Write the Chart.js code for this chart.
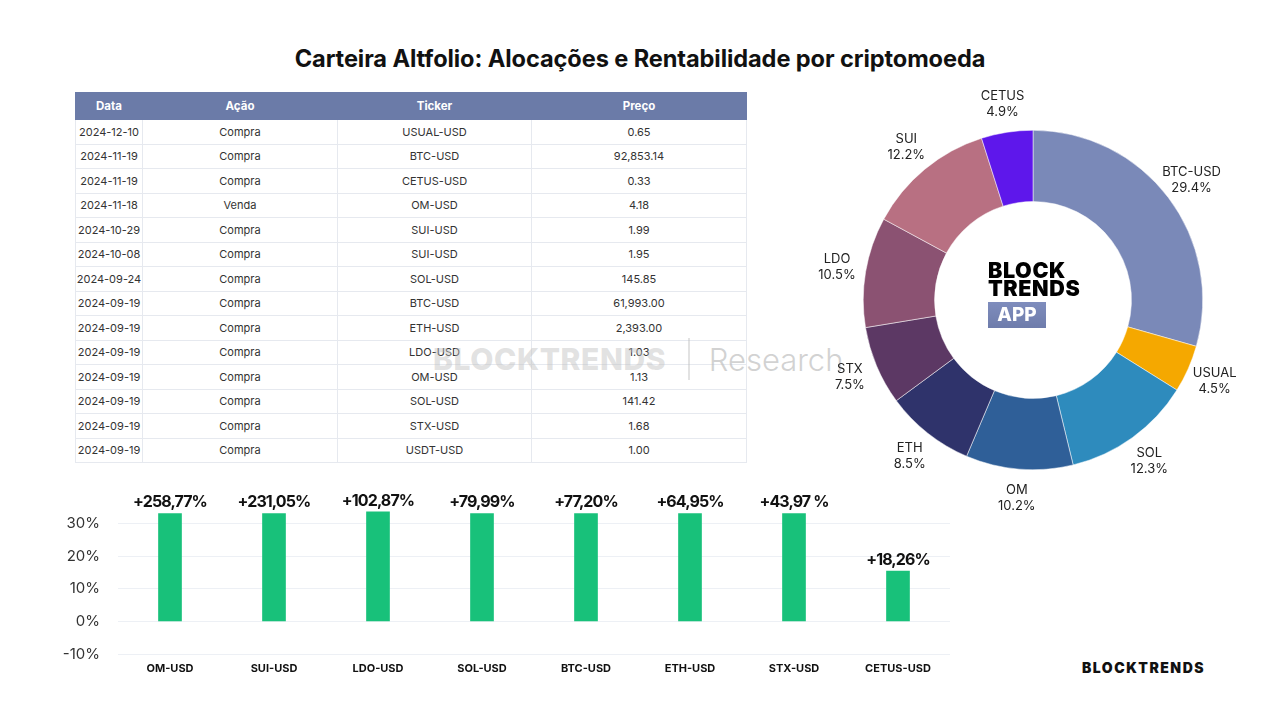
<!DOCTYPE html>
<html>
<head>
<meta charset="utf-8">
<script src="https://cdn.jsdelivr.net/npm/chart.js@4.4.1/dist/chart.umd.min.js"></script>
<style>
  html, body { margin: 0; padding: 0; background: #fff; }
  body { width: 1280px; height: 720px; position: relative; overflow: hidden; font-family: Inter, "Noto Sans", sans-serif; }
  #title { position: absolute; left: 0; top: 44px; width: 1280px; text-align: center; font-size: 23.6px; font-weight: 700; color: #111; letter-spacing: -0.1px; }
  #trades { position: absolute; left: 75px; top: 92px; width: 671px; border-collapse: collapse; table-layout: fixed; font-size: 11px; color: #333; }
  #trades th { background: #6b7ba8; color: #fff; font-weight: 700; font-size: 11.5px; height: 26px; padding: 0; border: 1px solid #6b7ba8; border-left-color: #fff; }
  #trades th:first-child { border-left-color: #6b7ba8; }
  #trades td { height: 23.5px; padding: 0; text-align: center; border: 1px solid #e6e9ef; }
  #watermark { position: absolute; left: 433px; top: 336px; height: 46px; display: flex; align-items: center; pointer-events: none; color: rgba(190,190,190,0.45); }
  #watermark .b { font-size: 30px; font-weight: 800; letter-spacing: 0.6px; font-family: Inter, sans-serif; }
  #watermark .sep { width: 1.5px; height: 42px; background: rgba(190,190,190,0.45); margin: 0 19px 0 22px; }
  #watermark .r { font-size: 31px; font-weight: 300; color: rgba(190,190,190,0.7); }
  #donutWrap { position: absolute; left: 813px; top: 80px; width: 440px; height: 440px; }
  #barWrap { position: absolute; left: 60px; top: 480px; width: 890px; height: 204px; }
  #logo { position: absolute; left: 988px; top: 262px; line-height: 17.5px; font-size: 21.5px; font-weight: 900; color: #000; letter-spacing: 0.6px; }
  #logo .app { display: inline-block; margin-top: 5px; width: 58px; height: 26px; line-height: 26px; text-align: center; background: linear-gradient(#7f8dbd, #6e7cab); color: #fff; font-size: 19px; font-weight: 800; letter-spacing: 0; }
  #brand { position: absolute; left: 1082px; top: 659px; font-size: 14px; font-weight: 900; color: #111; letter-spacing: 1.5px; }
</style>
</head>
<body>
<div id="title">Carteira Altfolio: Alocações e Rentabilidade por criptomoeda</div>

<table id="trades">
  <colgroup><col style="width:67px"><col style="width:195px"><col style="width:194px"><col style="width:215px"></colgroup>
  <thead><tr><th>Data</th><th>Ação</th><th>Ticker</th><th>Preço</th></tr></thead>
  <tbody id="tradeRows"></tbody>
</table>

<div id="watermark"><span class="b">BLOCKTRENDS</span><span class="sep"></span><span class="r">Research</span></div>

<div id="donutWrap"><canvas id="allocChart"></canvas></div>
<div id="logo">BLOCK<br>TRENDS<br><span class="app">APP</span></div>

<div id="barWrap"><canvas id="returnChart"></canvas></div>
<div id="brand">BLOCKTRENDS</div>

<script>
// table
const tradeDates = ["2024-12-10", "2024-11-19", "2024-11-19", "2024-11-18", "2024-10-29", "2024-10-08", "2024-09-24",
  "2024-09-19", "2024-09-19", "2024-09-19", "2024-09-19", "2024-09-19", "2024-09-19", "2024-09-19"];
const tradeActions = ["Compra", "Compra", "Compra", "Venda", "Compra", "Compra", "Compra",
  "Compra", "Compra", "Compra", "Compra", "Compra", "Compra", "Compra"];
const tradeTickers = ["USUAL-USD", "BTC-USD", "CETUS-USD", "OM-USD", "SUI-USD", "SUI-USD", "SOL-USD",
  "BTC-USD", "ETH-USD", "LDO-USD", "OM-USD", "SOL-USD", "STX-USD", "USDT-USD"];
const tradePrices = ["0.65", "92,853.14", "0.33", "4.18", "1.99", "1.95", "145.85",
  "61,993.00", "2,393.00", "1.03", "1.13", "141.42", "1.68", "1.00"];

// doughnut
const allocLabels = ["BTC-USD", "USUAL", "SOL", "OM", "ETH", "STX", "LDO", "SUI", "CETUS"];
const allocValues = [29.4, 4.5, 12.3, 10.2, 8.5, 7.5, 10.5, 12.2, 4.9];
const allocColors = ["#7a89b8", "#f5a800", "#2e8bbd", "#2f5f98", "#2f336b", "#5c3864", "#8b5272", "#b87082", "#5e17eb"];

// bars (heights as drawn, labels as printed)
const returnTickers = ["OM-USD", "SUI-USD", "LDO-USD", "SOL-USD", "BTC-USD", "ETH-USD", "STX-USD", "CETUS-USD"];
const returnBarHeights = [33, 33, 33.5, 33, 33, 33, 33, 15.4];
const returnLabels = ["+258,77%", "+231,05%", "+102,87%", "+79,99%", "+77,20%", "+64,95%", "+43,97 %", "+18,26%"];
const yTicks = [-10, 0, 10, 20, 30];

const tbody = document.getElementById("tradeRows");
tradeDates.forEach((d, i) => {
  const tr = document.createElement("tr");
  [d, tradeActions[i], tradeTickers[i], tradePrices[i]].forEach(v => {
    const td = document.createElement("td");
    td.textContent = v;
    tr.appendChild(td);
  });
  tbody.appendChild(tr);
});

Chart.defaults.font.family = "Inter, 'Noto Sans', sans-serif";
Chart.defaults.animation = false;

const outsideLabels = {
  id: "outsideLabels",
  afterDatasetsDraw(chart) {
    const { ctx } = chart;
    const meta = chart.getDatasetMeta(0);
    ctx.save();
    ctx.fillStyle = "#222";
    ctx.font = "13px Inter, sans-serif";
    ctx.textAlign = "center";
    ctx.textBaseline = "middle";
    meta.data.forEach((arc, i) => {
      const mid = (arc.startAngle + arc.endAngle) / 2;
      const r = arc.outerRadius + 29;
      const x = arc.x + Math.cos(mid) * r;
      const y = arc.y + Math.sin(mid) * r;
      ctx.fillText(allocLabels[i], x, y - 8);
      ctx.fillText(allocValues[i].toFixed(1) + "%", x, y + 8);
    });
    ctx.restore();
  }
};

new Chart(document.getElementById("allocChart"), {
  type: "doughnut",
  data: { labels: allocLabels, datasets: [{ data: allocValues, backgroundColor: allocColors, borderWidth: 0.5, borderColor: "#ffffff" }] },
  options: {
    responsive: true,
    maintainAspectRatio: false,
    cutout: "58%",
    layout: { padding: 50 },
    plugins: { legend: { display: false }, tooltip: { enabled: false } }
  },
  plugins: [outsideLabels]
});

const barLabels = {
  id: "barLabels",
  afterDatasetsDraw(chart) {
    const { ctx } = chart;
    const meta = chart.getDatasetMeta(0);
    ctx.save();
    ctx.fillStyle = "#111";
    ctx.font = "bold 16px Inter, sans-serif";
    ctx.letterSpacing = "-0.9px";
    ctx.textAlign = "center";
    ctx.textBaseline = "middle";
    meta.data.forEach((bar, i) => {
      ctx.fillText(returnLabels[i], bar.x, bar.y - 11);
    });
    ctx.restore();
  }
};

new Chart(document.getElementById("returnChart"), {
  type: "bar",
  data: { labels: returnTickers, datasets: [{ data: returnBarHeights, backgroundColor: "#18c17a", barThickness: 23 }] },
  options: {
    responsive: true,
    maintainAspectRatio: false,
    layout: { padding: { top: 27, right: 0, bottom: 0, left: 0 } },
    plugins: { legend: { display: false }, tooltip: { enabled: false } },
    scales: {
      x: {
        grid: { display: false },
        border: { display: false },
        ticks: { color: "#111", font: { size: 11, weight: "bold" }, padding: 0, maxRotation: 0 },
        afterFit: s => { s.height = 30; }
      },
      y: {
        min: -10,
        max: 35,
        grid: { color: "#edf0f5", drawTicks: false },
        border: { display: false },
        ticks: { color: "#333", font: { size: 15 }, padding: 18, callback: v => v + "%" },
        afterBuildTicks: s => { s.ticks = yTicks.map(v => ({ value: v })); },
        afterFit: s => { s.width = 58; }
      }
    }
  },
  plugins: [barLabels]
});
</script>
</body>
</html>
